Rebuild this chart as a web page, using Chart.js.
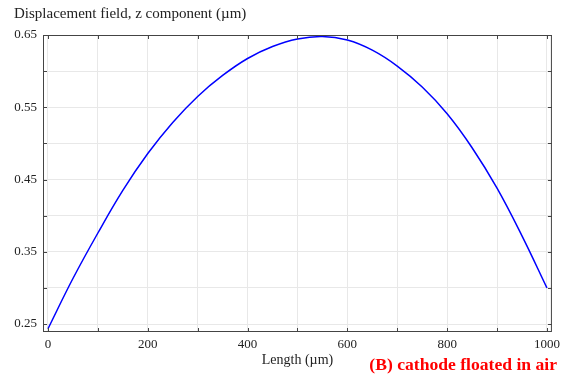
<!DOCTYPE html>
<html>
<head>
<meta charset="utf-8">
<script src="https://cdn.jsdelivr.net/npm/chart.js@4"></script>
<style>
  html, body { margin: 0; padding: 0; background: #fff; }
  #wrap { width: 565px; height: 374px; position: relative; }
</style>
</head>
<body>
<div id="wrap"><canvas id="chart-disp" width="565" height="374"></canvas></div>
<script>
// data (length in um, displacement in um)
const lengths = [0, 50, 100, 150, 200, 250, 300, 350, 400, 450, 500, 550, 600, 650, 700, 750, 800, 850, 900, 950, 1000];
const dispZ   = [0.2435, 0.313, 0.376, 0.435, 0.486, 0.529, 0.565, 0.594, 0.6175, 0.634, 0.6445, 0.648, 0.643, 0.629, 0.607, 0.578, 0.541, 0.494, 0.438, 0.372, 0.300];

const xTicks = [0, 100, 200, 300, 400, 500, 600, 700, 800, 900, 1000];
const xLabels = [0, 200, 400, 600, 800, 1000];
const yTicks = [0.25, 0.30, 0.35, 0.40, 0.45, 0.50, 0.55, 0.60, 0.65];
const yLabels = [0.25, 0.35, 0.45, 0.55, 0.65];

const SERIF = '"Liberation Serif", "DejaVu Serif", serif';
function near(list, v){ return list.some(t => Math.abs(t - v) < 1e-6); }

// frame, inward ticks, title and the red caption
const decor = {
  id: 'decor',
  afterDraw(chart){
    const { ctx, chartArea: a, scales } = chart;
    ctx.save();
    ctx.strokeStyle = '#444'; ctx.lineWidth = 1;
    ctx.strokeRect(a.left + 0.5, a.top + 0.5, a.right - a.left - 1, a.bottom - a.top - 1);
    ctx.beginPath();
    xTicks.forEach(v => {
      const x = Math.round(scales.x.getPixelForValue(v)) + 0.5;
      ctx.moveTo(x, a.bottom); ctx.lineTo(x, a.bottom - 4);
      ctx.moveTo(x, a.top); ctx.lineTo(x, a.top + 4);
    });
    yTicks.forEach(v => {
      const y = Math.round(scales.y.getPixelForValue(v)) + 0.5;
      ctx.moveTo(a.left, y); ctx.lineTo(a.left + 4, y);
      ctx.moveTo(a.right, y); ctx.lineTo(a.right - 4, y);
    });
    ctx.stroke();

    ctx.fillStyle = '#222';
    ctx.font = '15px ' + SERIF;
    ctx.textBaseline = 'middle'; ctx.textAlign = 'left';
    ctx.fillText('Displacement field, z component (\u00b5m)', 14, 14);

    ctx.fillStyle = '#ff0000';
    ctx.font = 'bold 17.6px ' + SERIF;
    ctx.textAlign = 'right';
    ctx.fillText('(B) cathode floated in air', 557, 365);
    ctx.restore();
  }
};

new Chart(document.getElementById('chart-disp').getContext('2d'), {
  type: 'line',
  data: {
    datasets: [{
      data: lengths.map((x, i) => ({ x, y: dispZ[i] })),
      borderColor: '#0000ff',
      borderWidth: 1.5,
      pointRadius: 0,
      tension: 0.4,
      fill: false
    }]
  },
  options: {
    responsive: false,
    animation: false,
    devicePixelRatio: 1,
    layout: { padding: { top: 35, right: 7, left: 0, bottom: 0 } },
    plugins: { legend: { display: false }, tooltip: { enabled: false } },
    scales: {
      x: {
        type: 'linear', min: -10, max: 1010,
        afterBuildTicks: s => { s.ticks = xTicks.map(v => ({ value: v })); },
        afterFit: s => { s.height = 42; },
        grid: { color: '#e8e8e8', drawTicks: false },
        border: { display: false },
        ticks: {
          autoSkip: false, maxRotation: 0, padding: 5, color: '#222',
          font: { family: SERIF, size: 13 },
          callback: v => near(xLabels, v) ? String(v) : ''
        },
        title: {
          display: true, text: 'Length (\u00b5m)', color: '#222',
          font: { family: SERIF, size: 14 }, padding: { top: 0, bottom: 5 }
        }
      },
      y: {
        type: 'linear', min: 0.239, max: 0.65,
        afterBuildTicks: s => { s.ticks = yTicks.map(v => ({ value: v })); },
        afterFit: s => { s.width = 43; },
        grid: { color: '#e8e8e8', drawTicks: false },
        border: { display: false },
        ticks: {
          autoSkip: false, padding: 6, color: '#222',
          font: { family: SERIF, size: 13 },
          callback: v => near(yLabels, v) ? v.toFixed(2) : ''
        }
      }
    }
  },
  plugins: [decor]
});
</script>
</body>
</html>
